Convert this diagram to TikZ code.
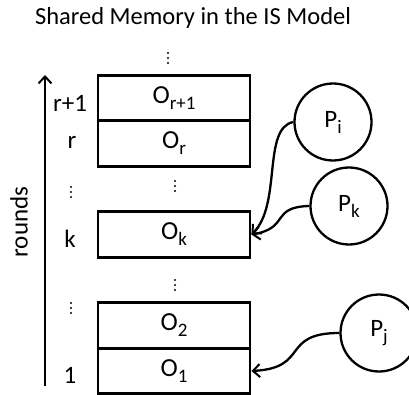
\documentclass[tikz,border=0pt]{standalone}
\usepackage{fontspec}
\setmainfont{Carlito}
\usetikzlibrary{arrows.meta}
\newcommand\sbs[1]{\raisebox{-6pt}{\fontsize{19}{19}\selectfont #1}}
\begin{document}
\begin{tikzpicture}[x=1pt,y=-1pt,
  mem/.style={draw,line width=2.8pt,minimum width=152pt,minimum height=45.5pt,inner sep=0pt,font=\fontsize{26}{26}\selectfont},
  proc/.style={draw,circle,line width=2.3pt,minimum size=77pt,inner sep=0pt,font=\fontsize{25}{25}\selectfont},
  lbl/.style={font=\fontsize{25}{25}\selectfont,inner sep=0pt},
  conn/.style={line width=2.3pt,-{Straight Barb[length=7pt,width=13pt,line width=2pt]}},
  vdot/.style={radius=1.1pt}]
\useasboundingbox (0,0) rectangle (409,395);
\node[font=\fontsize{24.5}{24.5}\selectfont,inner sep=0pt] (title) at (193,18) {Shared Memory in the IS Model};
\node[mem] (orr) at (174,98) {O\sbs{r+1}};
\node[mem] (or) at (174,143.5) {O\sbs{r}};
\node[mem] (ok) at (174,234.5) {O\sbs{k}};
\node[mem] (o2) at (174,325.5) {O\sbs{2}};
\node[mem] (o1) at (174,371) {O\sbs{1}};
\foreach \cx/\cy in {168/58, 175/186, 175/285, 71/192, 71/308}{
  \fill (\cx,\cy-5) circle[vdot];
  \fill (\cx,\cy) circle[vdot];
  \fill (\cx,\cy+5) circle[vdot];
}
\node[lbl] (lr1) at (70,103) {r+1};
\node[lbl] (lr) at (72,142) {r};
\node[lbl] (lk) at (70,239) {k};
\node[lbl] (l1) at (70,375) {1};
\node[lbl,rotate=90] (rounds) at (19,222) {rounds};
\coordinate (ab) at (45,386);
\coordinate (at) at (45,75);
\draw[line width=2.6pt,-{Straight Barb[length=7pt,width=13pt,line width=2pt]}] (ab) -- (at);
\node[proc] (pi) at (333,122) {P\sbs{i}};
\node[proc] (pk) at (349,206) {P\sbs{k}};
\node[proc] (pj) at (379,333) {P\sbs{j}};
\draw[conn] (pi.west) .. controls (262,128) and (282,205) .. (ok.east);
\draw[conn] (pk.west) .. controls (270,207) and (290,228) .. (ok.east);
\draw[conn] (pj.west) .. controls (280,333) and (310,368) .. (o1.east);
\end{tikzpicture}
\end{document}
